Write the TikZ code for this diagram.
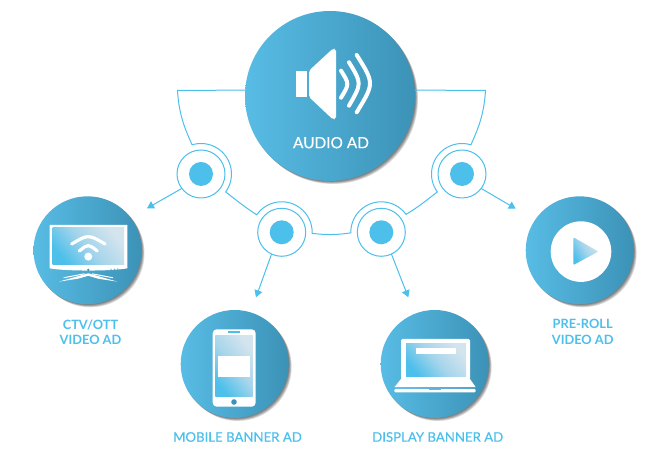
\documentclass[tikz,border=0pt]{standalone}
\usepackage{fontspec}
\setmainfont{Lato}
\newfontfamily\latomed[FakeBold=0.35]{Lato}
\usetikzlibrary{arrows.meta, shadows}
\definecolor{skyblue}{HTML}{4CBFEA}
\definecolor{discleft}{HTML}{58BCE4}
\definecolor{discright}{HTML}{3C92B7}
\definecolor{screenlight}{HTML}{D3E4EE}
\definecolor{screenmid}{HTML}{A6D5EB}
\tikzset{
	softshadow/.style={general shadow={fill=black,opacity=0.13,shadow xshift=#1pt,shadow yshift=-#1pt}},
	disc/.style={circle,inner sep=0pt,outer sep=0pt,left color=discleft,right color=discright,
		softshadow=3,softshadow=2.4,softshadow=1.8,softshadow=1.2,softshadow=0.6},
	smalldisc/.style={disc,minimum size=108pt},
	hub/.style={circle,draw=skyblue,fill=white,line width=1pt,minimum size=48pt,inner sep=0pt,outer sep=0pt},
	hubdot/.style={circle,fill=skyblue,minimum size=24pt,inner sep=0pt},
	wire/.style={draw=skyblue,line width=1pt},
	link/.style={draw=skyblue,line width=1pt,-{Triangle[length=7pt,width=8pt]}},
	caption/.style={text=skyblue,font=\fontsize{12.8}{15.7}\selectfont\bfseries,align=center},
	bannertext/.style={text=skyblue,font=\fontsize{13.2}{15.7}\selectfont\latomed},
	screen/.style={top color=screenlight,bottom color=skyblue,middle color=screenmid,shading angle=-50},
}
\begin{document}
\begin{tikzpicture}[x=1pt, y=1pt]
	\useasboundingbox (0,0) rectangle (667,465);
	%les disques
	\node[disc,minimum size=170pt] (audio) at (330,369) {};
	\node[smalldisc] (ctv) at (87.5,214.7) {};
	\node[smalldisc] (mobile) at (234.7,101) {};
	\node[smalldisc] (display) at (434.7,101) {};
	\node[smalldisc] (preroll) at (579.7,214.7) {};
	%les relais
	\node[hub] (hubA) at (201,291) {};
	\node[hub] (hubB) at (281.7,232.7) {};
	\node[hub] (hubC) at (381.3,232.7) {};
	\node[hub] (hubD) at (462,291) {};
	\node[hubdot] (dotA) at (hubA) {};
	\node[hubdot] (dotB) at (hubB) {};
	\node[hubdot] (dotC) at (hubC) {};
	\node[hubdot] (dotD) at (hubD) {};
	%le fil
	\coordinate (arcA) at ([shift={(107:30.5pt)}]hubA.center);
	\coordinate (arcB) at ([shift={(145:30.5pt)}]hubB.center);
	\coordinate (arcC) at ([shift={(181:30.5pt)}]hubC.center);
	\coordinate (arcD) at ([shift={(216:30.5pt)}]hubD.center);
	\coordinate (cornerL) at (177.5,374.5);
	\coordinate (cornerR) at (485.5,374.5);
	\draw[wire] (audio.176) -- (cornerL) .. controls (179,350) and (185,336) .. (arcA)
		arc[start angle=107,end angle=-36,radius=30.5pt] .. controls (236,265) and (246,257) .. (arcB)
		arc[start angle=145,end angle=-2,radius=30.5pt] .. controls (325,230) and (338,230) .. (arcC)
		arc[start angle=181,end angle=36,radius=30.5pt] .. controls (417,257) and (427,265) .. (arcD)
		arc[start angle=216,end angle=73,radius=30.5pt] .. controls (478,336) and (484,350) .. (cornerR) -- (audio.4);
	%les fleches
	\coordinate (tipA) at (147,256.7);
	\coordinate (tipB) at (256,167.7);
	\coordinate (tipC) at (408.3,167.7);
	\coordinate (tipD) at (515.7,256.3);
	\draw[link] (hubA.217) -- (tipA);
	\draw[link] (hubB.-115) -- (tipB);
	\draw[link] (hubC.-65) -- (tipC);
	\draw[link] (hubD.-37) -- (tipD);
	%haut-parleur
	\begin{scope}[shift={(audio.center)}]
		\fill[white] (-34,25.3) rectangle (-23.3,-1);
		\fill[white,rounded corners=2pt] (-21,25.3) -- (3,47.5) -- (6,47) -- (6,-23) -- (3,-23.5) -- (-21,-1) -- cycle;
		\draw[white,line width=4pt,line cap=round] (11,25.3) .. controls (19.4,12) .. (11,-1.7);
		\draw[white,line width=4pt,line cap=round] (19,33.7) .. controls (31.9,12.7) .. (19,-9.7);
		\draw[white,line width=4pt,line cap=round] (26.7,41) .. controls (44.4,12.7) .. (26.7,-16.3);
	\end{scope}
	\node[text=white,font=\fontsize{15.4}{17}\selectfont\latomed] (audioText) at (331,322.3) {AUDIO AD};
	%televiseur
	\begin{scope}[shift={(ctv.center)}]
		\fill[white] (-37.8,25.3) -- (39.8,25.3) -- (39.8,-18) .. controls (25,-21) and (-23,-21) .. (-37.8,-18) -- cycle;
		\shade[screen] (-34.8,22.7) rectangle (36.5,-14.7);
		\fill[discright] (0.8,-19.7) circle (1.3);
		\fill[discright] (23.5,-19) circle (0.6);
		\fill[discright] (26.8,-19) circle (0.6);
		\fill[discright] (30.2,-18.7) circle (0.6);
		\fill[white] (0.8,-23) -- (-28.5,-31.3) -- (-10,-28.5) -- (0.8,-25.5) -- (11,-28.5) -- (29.8,-31.3) -- cycle;
		\fill[white] (-24,-27) -- (-3,-23) -- (-3,-24) -- (-24,-28) -- cycle;
		\fill[white] (25.5,-27) -- (4.5,-23) -- (4.5,-24) -- (25.5,-28) -- cycle;
		\fill[white] (0.8,-6.3) circle (4);
		\draw[white,line width=3.2pt,line cap=round] (-8.2,-0.7) .. controls (0.8,6.5) .. (9.8,-0.7);
		\draw[white,line width=3.2pt,line cap=round] (-15.8,6.3) .. controls (0.8,16.1) .. (17.5,6.3);
	\end{scope}
	%telephone
	\begin{scope}[shift={(mobile.center)}]
		\fill[white,rounded corners=4pt] (-22,34.7) rectangle (21,-42.7);
		\shade[screen] (-19.3,28.3) rectangle (18,-33);
		\fill[white] (-16.7,8) rectangle (15.3,-13);
		\fill[skyblue] (-6.3,32.7) rectangle (5.3,31.2);
		\fill[discright] (-0.7,-38) circle (2.8);
	\end{scope}
	%ordinateur
	\begin{scope}[shift={(display.center)}]
		\fill[white,rounded corners=1.5pt] (-33.7,25) rectangle (35.3,-16);
		\shade[screen] (-28.7,20.7) rectangle (31.3,-12.7);
		\fill[white] (-19,16.3) rectangle (21.3,9.7);
		\fill[white] (-33.7,-15) -- (35.3,-15) -- (41,-23.2) -- (-40.3,-23.2) -- cycle;
		\fill[white,rounded corners=1pt] (-40.3,-25) rectangle (41,-28.3);
		\fill[discleft] (-5.5,-24.9) rectangle (6,-26);
	\end{scope}
	%lecture
	\fill[white] ([shift={(1.3,-1.3)}]preroll.center) circle (30.3);
	\begin{scope}[shift={(preroll.center)}]
		\shade[screen,rounded corners=1pt,shading angle=-60] (-6.3,13) -- (18.7,-1.3) -- (-6.3,-14.7) -- cycle;
	\end{scope}
	%les legendes
	\node[caption] (ctvText) at (90.5,132.8) {CTV/OTT\\VIDEO AD};
	\node[bannertext] (mobileText) at (237.5,28) {MOBILE BANNER AD};
	\node[bannertext] (displayText) at (437.7,28) {DISPLAY BANNER AD};
	\node[caption] (prerollText) at (582.7,132.8) {PRE-ROLL\\VIDEO AD};
\end{tikzpicture}
\end{document}
